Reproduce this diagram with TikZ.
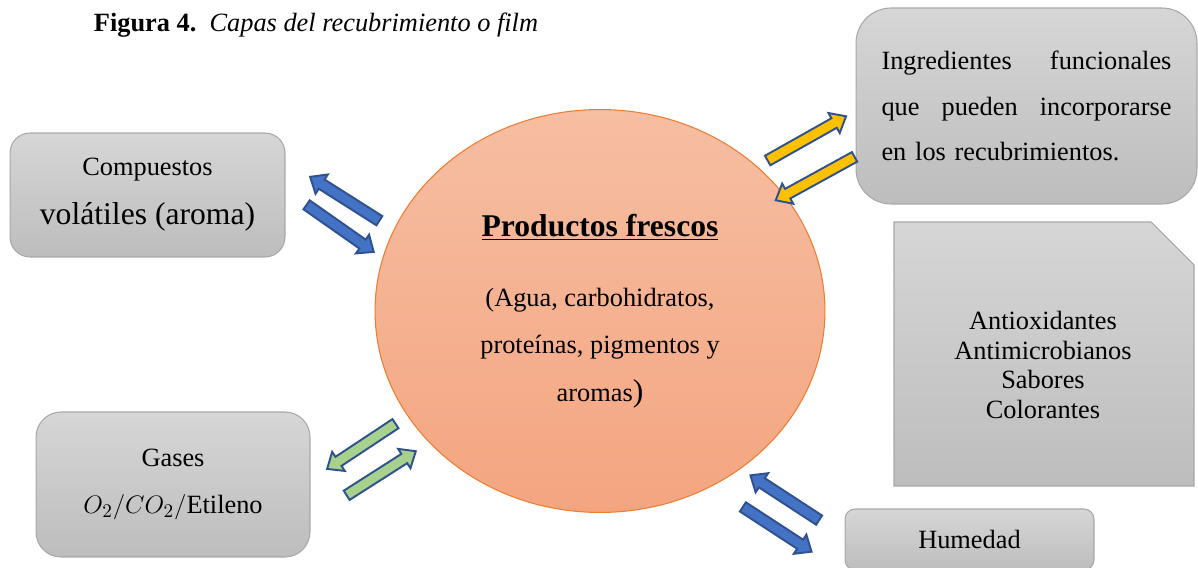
\documentclass[tikz,border=0pt]{standalone}
\usepackage{fontspec}
\setmainfont{Liberation Serif}
\usetikzlibrary{shapes.geometric,shapes.arrows}

\definecolor{grisclaro}{HTML}{D6D6D6}
\definecolor{grisoscuro}{HTML}{BDBDBD}
\definecolor{bordegris}{HTML}{A8A8A8}
\definecolor{salmonclaro}{HTML}{F6BEA2}
\definecolor{salmon}{HTML}{F4A580}
\definecolor{naranja}{HTML}{ED7D31}
\definecolor{azul}{HTML}{4472C4}
\definecolor{bordeazul}{HTML}{2F528F}
\definecolor{amarillo}{HTML}{FFC000}
\definecolor{verde}{HTML}{A9D18E}

\begin{document}
\begin{tikzpicture}[x=0.02cm, y=-0.02cm,
    relleno/.style={draw=bordegris, line width=0.6pt, top color=grisclaro, bottom color=grisoscuro},
    caja/.style={relleno, align=center, inner sep=0pt, font=\fontsize{15}{18}\selectfont},
    flecha/.style={single arrow, draw=bordeazul, line width=1.1pt, inner sep=0.09cm,
      single arrow head extend=0.12cm, single arrow tip angle=80, minimum height=1.64cm,
      sloped, allow upside down}]
  \useasboundingbox (0,0) rectangle (1198,568);

  \node[font=\fontsize{15}{18}\selectfont] (titulo) at (316,25)
    {\textbf{Figura 4.}\ \ \textit{Capas del recubrimiento o film}};

  \node[ellipse, draw=naranja, line width=0.6pt, top color=salmonclaro, bottom color=salmon,
    minimum width=9cm, minimum height=8.06cm, align=center, font=\fontsize{15}{27}\selectfont]
    (producto) at (600,311)
    {{\fontsize{18}{18}\selectfont\underline{\textbf{Productos frescos}}}\\[13pt]
     (Agua, carbohidratos,\\ proteínas, pigmentos y\\ aromas{\fontsize{18}{18}\selectfont)}};

  \node[caja, rounded corners=0.4cm, minimum width=5.5cm, minimum height=2.48cm,
    font=\fontsize{15}{28}\selectfont] (compuestos) at (147.5,195)
    {Compuestos\\ {\fontsize{18}{18}\selectfont volátiles (aroma)}};
  \node[caja, rounded corners=0.5cm, minimum width=5.48cm, minimum height=2.9cm,
    font=\fontsize{15}{27}\selectfont] (gases) at (173,484.5)
    {Gases\\ $O_2/CO_2/$Etileno};
  \node[caja, rounded corners=0.7cm, minimum width=6.82cm, minimum height=3.92cm,
    text width=5.8cm, align=left, font=\fontsize{15}{26}\selectfont] (ingredientes) at (1026.5,106)
    {Ingredientes\hfill funcionales\\ que\hfill pueden\hfill incorporarse\\ en los recubrimientos.};

  % caja con esquina recortada
  \path[relleno] (894,222) -- (1151,222) -- (1194,265) -- (1194,486) -- (894,486) -- cycle;
  \node[align=center, font=\fontsize{15}{17}\selectfont] (aditivos) at (1043,365)
    {Antioxidantes\\ Antimicrobianos\\ Sabores\\ Colorantes};

  \node[caja, rounded corners=0.2cm, minimum width=4.98cm, minimum height=1.22cm]
    (humedad) at (969.5,539.5) {Humedad};

  % extremos de las flechas
  \coordinate (c1a) at (383,223); \coordinate (c1b) at (312,178);
  \coordinate (c2a) at (304,203); \coordinate (c2b) at (371,250);
  \coordinate (i1a) at (765,162); \coordinate (i1b) at (843,118);
  \coordinate (i2a) at (858,155); \coordinate (i2b) at (778,199);
  \coordinate (g1a) at (398,422); \coordinate (g1b) at (330,467);
  \coordinate (g2a) at (344,497); \coordinate (g2b) at (413,453);
  \coordinate (h1a) at (822,522); \coordinate (h1b) at (753,477);
  \coordinate (h2a) at (740,505); \coordinate (h2b) at (809,550);

  \path (c1a) -- node[flecha, fill=azul] (fc1) {} (c1b);
  \path (c2a) -- node[flecha, fill=azul] (fc2) {} (c2b);
  \path (i1a) -- node[flecha, fill=amarillo, minimum height=1.8cm] (fi1) {} (i1b);
  \path (i2a) -- node[flecha, fill=amarillo, minimum height=1.8cm] (fi2) {} (i2b);
  \path (g1a) -- node[flecha, fill=verde] (fg1) {} (g1b);
  \path (g2a) -- node[flecha, fill=verde] (fg2) {} (g2b);
  \path (h1a) -- node[flecha, fill=azul] (fh1) {} (h1b);
  \path (h2a) -- node[flecha, fill=azul] (fh2) {} (h2b);
\end{tikzpicture}
\end{document}
